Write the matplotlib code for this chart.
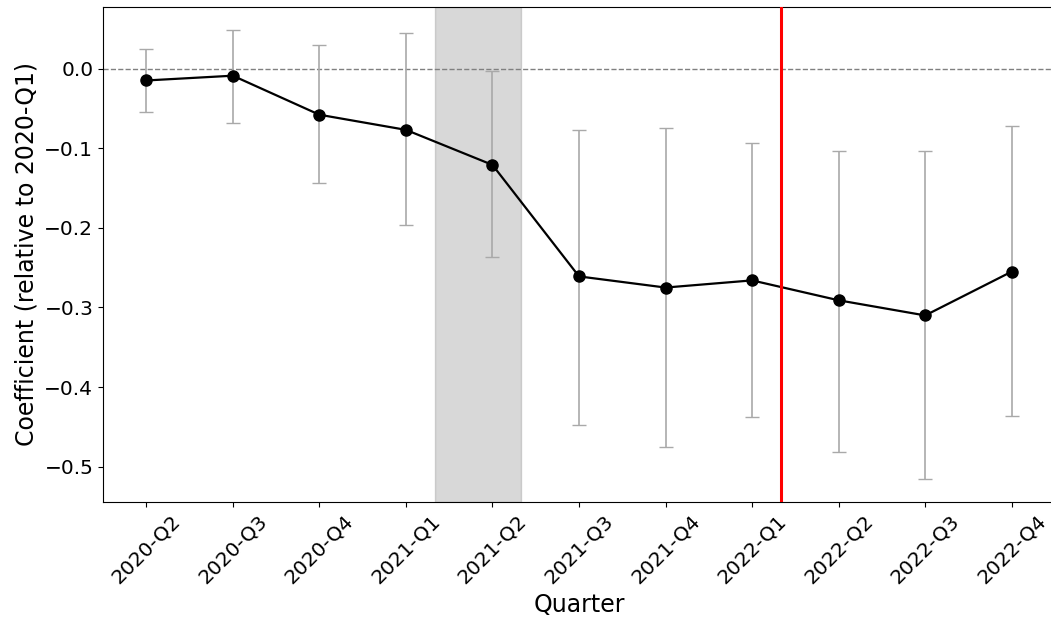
import matplotlib
matplotlib.use("Agg")
import matplotlib.pyplot as plt
import numpy as np

quarters = ["2020-Q2", "2020-Q3", "2020-Q4", "2021-Q1", "2021-Q2", "2021-Q3",
            "2021-Q4", "2022-Q1", "2022-Q2", "2022-Q3", "2022-Q4"]
coef = [-0.015, -0.009, -0.058, -0.077, -0.121, -0.261,
        -0.275, -0.266, -0.291, -0.310, -0.255]
ci_low = [-0.054, -0.068, -0.144, -0.197, -0.237, -0.447,
          -0.475, -0.438, -0.481, -0.516, -0.436]
ci_high = [0.025, 0.049, 0.029, 0.044, -0.003, -0.077,
           -0.075, -0.093, -0.103, -0.103, -0.072]

shade_start, shade_end = 3 + 1/3, 4 + 1/3
event_line = 7 + 1/3

fig = plt.figure(figsize=(10.51, 6.23), dpi=100)
ax = fig.add_axes([103/1051, 1 - 502/623, (1055 - 103)/1051, (502 - 7)/623])

x = np.arange(len(quarters))
coef_a = np.array(coef)
yerr = np.vstack([coef_a - np.array(ci_low), np.array(ci_high) - coef_a])

ax.axvspan(shade_start, shade_end, color="gray", alpha=0.3, zorder=0)
ax.axhline(0, color="gray", linestyle="--", linewidth=1, zorder=1)
ax.errorbar(x, coef_a, yerr=yerr, fmt="none", ecolor="darkgray",
            elinewidth=1.2, capsize=5, zorder=2)
ax.plot(x, coef_a, color="black", marker="o", markersize=8,
        linewidth=1.6, zorder=3)
ax.axvline(event_line, color="red", linewidth=2.2, zorder=4)

ax.set_xlim(-0.5, len(quarters) - 0.5)
ax.set_xticks(x)
ax.set_xticklabels(quarters, rotation=45, fontsize=14.5)
ax.tick_params(axis="y", labelsize=14.5)
ax.set_xlabel("Quarter", fontsize=17)
ax.set_ylabel("Coefficient (relative to 2020-Q1)", fontsize=17)

fig.savefig("out.png", dpi=100)
